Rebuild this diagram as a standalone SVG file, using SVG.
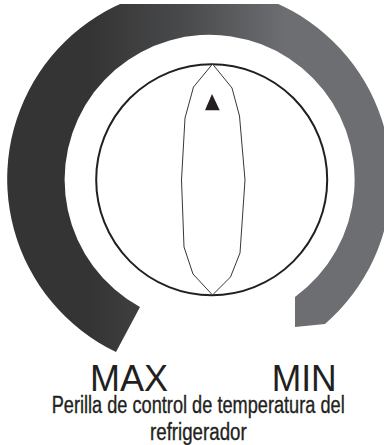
<svg xmlns="http://www.w3.org/2000/svg" width="384" height="445" viewBox="0 0 384 445">
  <style>
    .lbl { font-family: "Liberation Sans", Arial, sans-serif; fill: #231f20; }
    .cap { font-family: "Liberation Sans Narrow", "Liberation Sans", Arial, sans-serif; fill: #231f20; font-size: 23px; stroke: #231f20; stroke-width: 0.35; }
  </style>
  <defs>
    <linearGradient id="ringGrad" gradientUnits="userSpaceOnUse" x1="90" y1="0" x2="285" y2="0">
      <stop offset="0" stop-color="#343434"/>
      <stop offset="0.5" stop-color="#4a4b4d"/>
      <stop offset="1" stop-color="#6d6e71"/>
    </linearGradient>
    <clipPath id="topClip">
      <rect x="0" y="4" width="384" height="441"/>
    </clipPath>
  </defs>
  <g id="dial-ring" clip-path="url(#topClip)">
    <path d="M116,352 A192,192 0 1 1 325,324 L295,327 L295,297 A145,145 0 1 0 140,307 Z" fill="url(#ringGrad)"/>
  </g>
  <g id="knob">
    <circle cx="211.7" cy="179.7" r="115.5" fill="#ffffff" stroke="#231f20" stroke-width="2"/>
    <polygon points="212.5,64 193.5,87 185,118 181.5,180 184,247 193,274 212.5,295 230.5,277 240,253 245,180 239.5,116 232,88" fill="#ffffff" stroke="#231f20" stroke-width="0.9"/>
    <polygon points="212,94 205,110.3 219.7,110.3" fill="#231f20"/>
  </g>
  <g id="labels">
    <text class="lbl" x="90" y="391" font-size="36" textLength="78" lengthAdjust="spacingAndGlyphs">MAX</text>
    <text class="lbl" x="271.7" y="391" font-size="36" textLength="65" lengthAdjust="spacingAndGlyphs">MIN</text>
    <text class="cap" x="51.7" y="413" textLength="293" lengthAdjust="spacingAndGlyphs">Perilla de control de temperatura del</text>
    <text class="cap" x="150" y="439.5" textLength="96.7" lengthAdjust="spacingAndGlyphs">refrigerador</text>
  </g>
</svg>
